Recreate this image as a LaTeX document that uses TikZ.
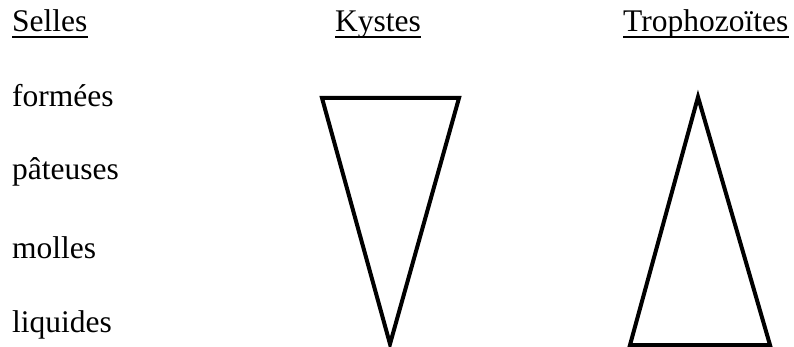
\documentclass[tikz,border=0pt]{standalone}
\usepackage{fontspec}
\setmainfont{Liberation Serif}
\usepackage{tikz}

\begin{document}
\begin{tikzpicture}[x=1pt,y=-1pt,
  lbl/.style={anchor=base west,inner sep=0pt,font=\fontsize{31.5}{34}\selectfont},
  souligne/.style={line width=2pt},
  trait/.style={line width=4pt,line join=miter}]
\useasboundingbox (0,0) rectangle (794,347);
% Titres
\node[lbl] (selles) at (12,32) {Selles};
\node[lbl] (kystes) at (335,32) {Kystes};
\node[lbl] (tropho) at (623,32) {Trophozoïtes};
\foreach \t in {selles,kystes,tropho}
  \draw[souligne] ([yshift=-5pt]\t.base west) -- ([yshift=-5pt]\t.base east);
% Types de selles
\node[lbl] (formees) at (12,107) {formées};
\node[lbl] (pateuses) at (12,180) {pâteuses};
\node[lbl] (molles) at (12,258) {molles};
\node[lbl] (liquides) at (12,332) {liquides};
% Kystes
\draw[trait] (322,98) -- (459,98) -- (390,344) -- cycle;
% Trophozoites
\draw[trait] (698,97) -- (770,345) -- (630,345) -- cycle;
\end{tikzpicture}
\end{document}
